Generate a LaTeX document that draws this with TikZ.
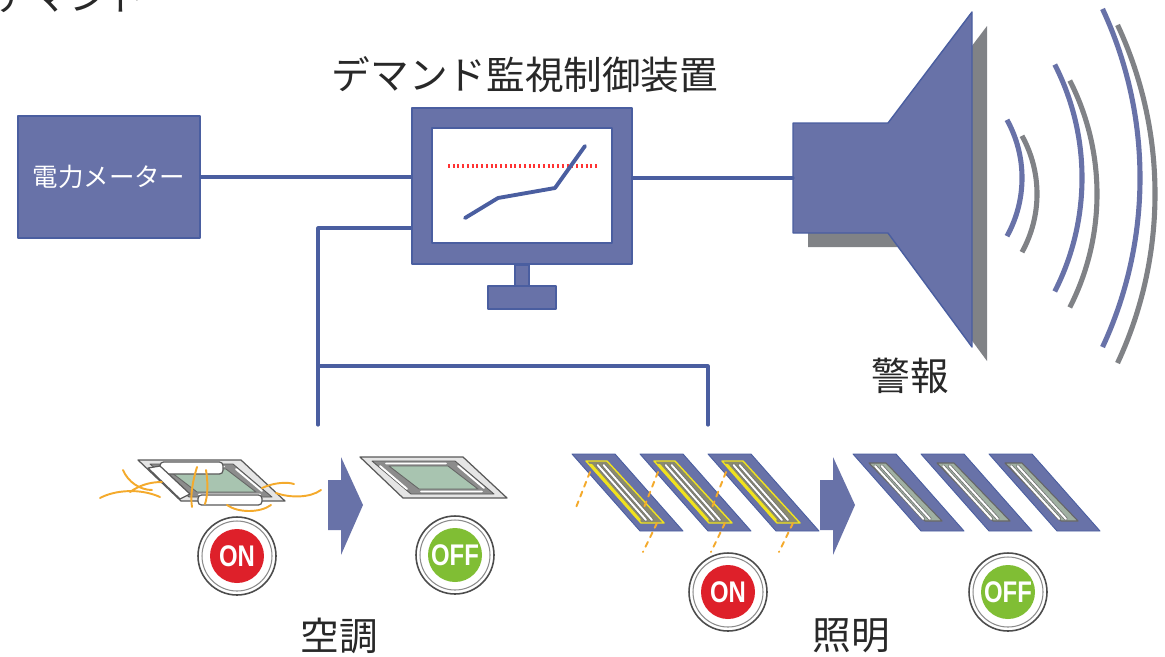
\documentclass[tikz,border=0pt]{standalone}
\usepackage{fontspec}
\newfontfamily\jpfont{Noto Sans CJK JP}
\newfontfamily\swfont{Liberation Sans}[FakeStretch=0.8]
\definecolor{panel}{RGB}{104,114,168}
\definecolor{edge}{RGB}{74,94,160}
\definecolor{dropgrey}{RGB}{128,130,134}
\definecolor{ink}{RGB}{40,40,40}
\definecolor{onred}{RGB}{222,32,42}
\definecolor{offgreen}{RGB}{128,190,52}
\definecolor{air}{RGB}{244,170,44}
\definecolor{acpanel}{RGB}{168,196,176}
\definecolor{lamp}{RGB}{240,226,30}
\definecolor{lampbed}{RGB}{138,138,112}
\definecolor{offbed}{RGB}{160,176,162}
\begin{document}
\begin{tikzpicture}[x=0.02cm,y=-0.02cm,line join=round,line cap=round,
	wire/.style={draw=edge,line width=1.8pt},
	unit/.style={fill=panel,draw=edge,line width=0.8pt},
	caption/.style={text=ink,inner sep=0pt,font=\jpfont\fontsize{22}{26}\selectfont},
	wave/.style={line width=2.9pt,line cap=butt},
	ring/.style={circle,draw=black!70,line width=0.9pt,fill=white,minimum size=1.56cm,inner sep=0pt},
	sw/.style={circle,inner sep=0pt,minimum size=1.08cm,text=white,font=\swfont\bfseries\fontsize{17}{17}\selectfont},
	flow/.style={draw=air,line width=1.1pt},
	glow/.style={draw=air,line width=1.1pt,dash pattern=on 3pt off 3pt},
	tube/.style={draw=black!55,double=white,double distance=1.1pt,line width=0.45pt},
	flap/.style={fill=white,draw=black!65,line width=0.7pt}]
	\useasboundingbox (0,0) rectangle (1165,656);
	\begin{scope}
		\clip (0,0) rectangle (1165,656);
		\node[caption,anchor=base east] (head) at (147,10) {のデマンド};
	\end{scope}

	% meter and controller
	\node[unit,minimum width=3.64cm,minimum height=2.44cm,text=white,font=\jpfont\fontsize{14.5}{16}\selectfont] (meter) at (109,177) {電力メーター};
	\node[caption] (title) at (525,75) {デマンド監視制御装置};
	\node[unit,minimum width=4.4cm,minimum height=3.12cm] (monitor) at (522,186) {};
	\node[fill=white,draw=edge,line width=0.6pt,minimum width=3.6cm,minimum height=2.3cm,inner sep=0pt] (screen) at (522,185.5) {};
	\filldraw[unit] (515,265) rectangle (529,286);
	\filldraw[unit] (488,286) rectangle (556,309);
	\draw[red!80!white,line width=2.2pt,line cap=butt,dash pattern=on 1.1pt off 1.6pt] (448,166) -- (597,166);
	\draw[edge,line width=2.2pt] (465,218) -- (498,198) -- (555,188) -- (585,146);

	% speaker
	\fill[dropgrey,shift={(15,14)}] (793,123) -- (888,123) -- (972,12) -- (972,347) -- (888,233) -- (793,233) -- cycle;
	\filldraw[unit] (793,123) -- (888,123) -- (972,12) -- (972,347) -- (888,233) -- (793,233) -- cycle;
	\coordinate (horn) at (793,178);
	\foreach \cx/\r/\a in {902/120/29,832/250/27,740/400/25}{
		\draw[wave,dropgrey] (\cx+15,194) ++(-\a:\r) arc[start angle=-\a,end angle=\a,radius=\r];
		\draw[wave,panel] (\cx,178) ++(-\a:\r) arc[start angle=-\a,end angle=\a,radius=\r];
	}
	\node[caption] (alarm) at (910,376) {警報};

	% wiring
	\draw[wire] (meter.east) -- (meter.east -| monitor.west);
	\draw[wire] (monitor.east |- horn) -- (horn);
	\path (monitor.west) ++(0,42) coordinate (tap);
	\coordinate (bus) at (318,366);
	\coordinate (acfeed) at (318,425);
	\coordinate (lampfeed) at (708,425);
	\draw[wire] (tap) -| (acfeed);
	\draw[wire] (bus) -| (lampfeed);

	% on -> off arrows
	\foreach \ax in {0,492}
		\fill[panel,shift={(\ax,0)}] (328,480) -- (341,480) -- (341,457) -- (363,505) -- (341,555) -- (341,530) -- (328,530) -- cycle;

	% air conditioners
	\foreach \ux/\uy in {-222/3,0/0}{
		\begin{scope}[shift={(\ux,\uy)}]
			\filldraw[fill=black!10,draw=black!65,line width=0.7pt] (360,457) -- (463,457) -- (507,498) -- (403,498) -- cycle;
			\filldraw[fill=black!45,draw=black!65,line width=0.5pt] (372,461) -- (455,461) -- (494,494) -- (411,494) -- cycle;
			\filldraw[fill=acpanel,draw=black!60,line width=0.5pt] (389,466) -- (448,466) -- (478,489) -- (419,489) -- cycle;
			\draw[white,line width=1.1pt] (386,463.5) -- (446,463.5) (421,491.5) -- (482,491.5)
				(380,466) -- (407,489) (458,466) -- (484,488);
		\end{scope}
	}
	\filldraw[flap,rounded corners=2pt] (160,462) rectangle (223,474);
	\filldraw[flap] (148,468) -- (160,466) -- (190,494) -- (180,499) -- cycle;
	\filldraw[flap,rounded corners=2pt] (198,495) rectangle (262,505);
	\draw[flow] (100,498) .. controls (115,490) and (140,488) .. (160,497);
	\draw[flow] (123,470) .. controls (128,482) and (140,490) .. (152,490);
	\draw[flow] (130,492) .. controls (140,485) and (150,482) .. (162,482);
	\draw[flow] (197,467) .. controls (193,480) and (190,495) .. (192,507);
	\draw[flow] (206,470) .. controls (208,482) and (208,495) .. (205,504);
	\draw[flow] (227,505) .. controls (238,513) and (260,513) .. (271,505);
	\draw[flow] (262,488) .. controls (275,482) and (288,482) .. (294,484);
	\draw[flow] (276,493) .. controls (290,498) and (310,498) .. (321,490);
	\node[caption] (aclabel) at (339,636) {空調};

	% lighting
	\foreach \i in {0,1,2}{
		\begin{scope}[shift={(68*\i,0)}]
			\filldraw[unit,line width=0.5pt] (572,454) -- (615,454) -- (683,531) -- (640,531) -- cycle;
			\filldraw[fill=lampbed,draw=lamp,line width=0.8pt] (586,461) -- (607,461) -- (664,523) -- (641,523) -- cycle;
			\draw[lamp,line width=1.6pt] (591,465) -- (639.5,520);
			\draw[tube] (597.5,465) -- (646,520);
			\draw[tube] (603.5,465) -- (652,520);
			\draw[glow] (590,472) -- (575,510);
			\draw[glow] (657,523) -- (643,552);
		\end{scope}
		\begin{scope}[shift={(281+68*\i,0)}]
			\filldraw[unit,line width=0.5pt] (572,454) -- (615,454) -- (683,531) -- (640,531) -- cycle;
			\filldraw[fill=offbed,draw=black!60,line width=0.6pt] (588,463) -- (605,463) -- (661,521) -- (644,521) -- cycle;
			\draw[tube] (594,466) -- (642.5,519);
			\draw[tube] (600.5,466) -- (649,519);
		\end{scope}
	}
	\node[caption] (lamplabel) at (851,636) {照明};

	% switches
	\foreach \bx/\by/\bc/\bt [count=\k] in {237/556/onred/ON,455/555/offgreen/OFF,728/592/onred/ON,1008/592/offgreen/OFF}{
		\node[ring] (ring\k) at (\bx,\by) {};
		\draw[black!45,line width=0.6pt] (ring\k.center) circle[radius=35];
		\node[sw,fill=\bc] (sw\k) at (\bx,\by) {\bt};
	}
\end{tikzpicture}
\end{document}
